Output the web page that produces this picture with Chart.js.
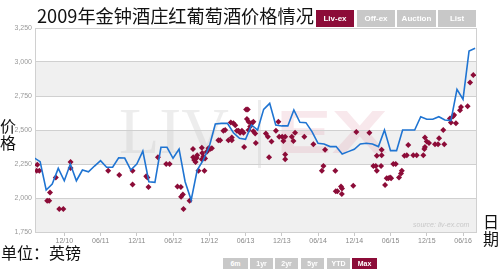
<!DOCTYPE html>
<html>
<head>
<meta charset="utf-8">
<script src="https://cdn.jsdelivr.net/npm/chart.js@4.4.0/dist/chart.umd.min.js"></script>
<style>
  body { margin: 0; width: 500px; height: 273px; overflow: hidden; background: #fff; position: relative; font-family: "Noto Sans CJK SC", sans-serif; }
  #chart { position: absolute; left: 0; top: 0; }
  .title { position: absolute; left: 37px; top: 4px; font-size: 18.2px; line-height: 23px; color: #111; white-space: nowrap; }
  .btn { position: absolute; text-align: center; color: #fff; font: bold 8px "Liberation Sans", Arial, sans-serif; background: #c8c8c8; }
  .top { top: 10px; height: 17px; line-height: 17px; }
  .bottom { top: 258px; height: 11px; line-height: 11px; font-size: 7px; }
  .on { background: #8c0c38; }
  .lbl { position: absolute; font-size: 16px; line-height: 17px; color: #111; }
  .source { position: absolute; left: 413px; top: 221px; font: italic 7px "Liberation Sans", Arial, sans-serif; color: #c8c8c8; }
</style>
</head>
<body>
<canvas id="chart" width="500" height="273"></canvas>
<div class="title">2009年金钟酒庄红葡萄酒价格情况</div>
<div class="btn top on" style="left:316px;width:38px">Liv-ex</div>
<div class="btn top" style="left:357px;width:38px">Off-ex</div>
<div class="btn top" style="left:397px;width:39px">Auction</div>
<div class="btn top" style="left:438px;width:38px">List</div>
<div class="lbl" style="left:0;top:117px;width:16px">价<br>格</div>
<div class="lbl" style="left:483px;top:213px;width:16px">日<br>期</div>
<div class="lbl" style="left:1px;top:244px">单位：英镑</div>
<div class="source">source: liv-ex.com</div>
<div class="btn bottom" style="left:223px;width:25px">6m</div>
<div class="btn bottom" style="left:250px;width:23px">1yr</div>
<div class="btn bottom" style="left:275px;width:23px">2yr</div>
<div class="btn bottom" style="left:301px;width:23px">5yr</div>
<div class="btn bottom" style="left:327px;width:23px">YTD</div>
<div class="btn bottom on" style="left:352px;width:25px">Max</div>
<script>
// monthly Liv-ex mid price
const lineMonths = [
  '2010-07', '2010-08', '2010-09', '2010-10', '2010-11', '2010-12',
  '2011-01', '2011-02', '2011-03', '2011-04', '2011-05', '2011-06', '2011-07', '2011-08', '2011-09', '2011-10', '2011-11', '2011-12',
  '2012-01', '2012-02', '2012-03', '2012-04', '2012-05', '2012-06', '2012-07', '2012-08', '2012-09', '2012-10', '2012-11', '2012-12',
  '2013-01', '2013-02', '2013-03', '2013-04', '2013-05', '2013-06', '2013-07', '2013-08', '2013-09', '2013-10', '2013-11', '2013-12',
  '2014-01', '2014-02', '2014-03', '2014-04', '2014-05', '2014-06', '2014-07', '2014-08', '2014-09', '2014-10', '2014-11', '2014-12',
  '2015-01', '2015-02', '2015-03', '2015-04', '2015-05', '2015-06', '2015-07', '2015-08', '2015-09', '2015-10', '2015-11', '2015-12',
  '2016-01', '2016-02', '2016-03', '2016-04', '2016-05', '2016-06', '2016-07', '2016-08'
];
const lineValues = [
  2296, 2267, 2059, 2103, 2218, 2127,
  2250, 2127, 2206, 2193, 2235, 2274, 2226, 2226, 2296, 2294, 2206, 2250,
  2345, 2120, 2115, 2373, 2373, 2292, 2360, 2120, 1985, 2206, 2279, 2378,
  2544, 2549, 2549, 2480, 2439, 2432, 2537, 2500, 2652, 2696, 2537, 2530,
  2530, 2647, 2557, 2554, 2488, 2402, 2397, 2378, 2378, 2324, 2341, 2358,
  2397, 2402, 2397, 2378, 2500, 2348, 2348, 2500, 2500, 2500, 2598, 2579,
  2579, 2598, 2574, 2569, 2799, 2726, 3081, 3101
];

// individual trades
const tradeDates = [
  '2010-07-17', '2010-07-14', '2010-07-27', '2010-09-06', '2010-09-16', '2010-09-20', '2010-10-19', '2010-11-06', '2010-11-26',
  '2011-01-02', '2011-01-02', '2011-07-09', '2011-09-04', '2011-11-10', '2011-11-10',
  '2012-01-18', '2012-01-24', '2012-01-29', '2012-03-16', '2012-04-27', '2012-05-14', '2012-06-23', '2012-07-10', '2012-07-20',
  '2012-07-11', '2012-07-23', '2012-08-23', '2012-09-10', '2012-09-11', '2012-09-16', '2012-09-23', '2012-09-28', '2012-10-01',
  '2012-10-07', '2012-10-24', '2012-10-26', '2012-11-02', '2012-11-10', '2012-10-24', '2012-11-07', '2012-11-19', '2012-11-27',
  '2012-12-05', '2012-12-14',
  '2013-01-16', '2013-01-25', '2013-02-11', '2013-02-20', '2013-03-06', '2013-03-23', '2013-03-23', '2013-03-18', '2013-04-01',
  '2013-04-10', '2013-04-18', '2013-04-26', '2013-05-04', '2013-05-13', '2013-05-21', '2013-05-24', '2013-06-04', '2013-06-12',
  '2013-06-08', '2013-06-16', '2013-07-02', '2013-07-10', '2013-06-16', '2013-06-24', '2013-07-10', '2013-07-19', '2013-07-22',
  '2013-09-12', '2013-09-22', '2013-09-28', '2013-10-10', '2013-11-02', '2013-11-14', '2013-11-18', '2013-12-03', '2013-12-18',
  '2013-12-09', '2013-12-18', '2013-12-18',
  '2014-01-21', '2014-01-29', '2014-02-07', '2014-03-23', '2014-05-08', '2014-06-20', '2014-06-28', '2014-07-06', '2014-08-27',
  '2014-08-29', '2014-09-07', '2014-09-25', '2014-09-30', '2014-09-29', '2014-11-26', '2014-12-11',
  '2015-02-16', '2015-03-06', '2015-03-18', '2015-03-23', '2015-04-14', '2015-04-17', '2015-03-23', '2015-04-17', '2015-05-04',
  '2015-05-12', '2015-05-20', '2015-05-29', '2015-06-04', '2015-06-15', '2015-06-27', '2015-07-13', '2015-07-27', '2015-07-23',
  '2015-08-10', '2015-08-22', '2015-08-29', '2015-09-24', '2015-10-11', '2015-11-14', '2015-11-22', '2015-12-01', '2015-11-22',
  '2015-11-19', '2015-12-12',
  '2016-01-12', '2016-01-27', '2016-02-02', '2016-02-23', '2016-02-28', '2016-03-26', '2016-04-01', '2016-04-11', '2016-04-17',
  '2016-04-26', '2016-05-16', '2016-05-21', '2016-06-24', '2016-07-06', '2016-07-22'
];
const tradePrices = [
  2245, 2200, 2200, 1980, 1980, 2040, 2150, 1920, 1920,
  2265, 2220, 2200, 2170, 2200, 2100,
  2160, 2150, 2080, 2300, 2250, 2250, 2085, 2080, 2025,
  2010, 1920, 1980, 2360, 2300, 2280, 2265, 2295, 2315,
  2200, 2370, 2330, 2305, 2290, 2285, 2200, 2340, 2365,
  2360, 2365,
  2425, 2425, 2495, 2500, 2425, 2445, 2425, 2555, 2550,
  2535, 2495, 2495, 2480, 2495, 2480, 2375, 2650, 2650,
  2580, 2560, 2550, 2560, 2500, 2525, 2490, 2475, 2405,
  2475, 2450, 2300, 2415, 2495, 2560, 2450, 2450, 2450,
  2420, 2320, 2285,
  2450, 2420, 2480, 2450, 2395, 2200, 2235, 2355, 2200,
  2050, 2050, 2085, 2070, 2030, 2090, 2485,
  2480, 2235, 2235, 2200, 2235, 2355, 2310, 2315, 2095,
  2145, 2145, 2150, 2145, 2250, 2250, 2150, 2200, 2180,
  2310, 2315, 2390, 2315, 2315, 2315, 2445, 2415, 2375,
  2360, 2405,
  2395, 2395, 2440, 2500, 2395, 2585, 2555, 2600, 2610,
  2550, 2645, 2670, 2675, 2850, 2905
];

const tickMonths = ['2010-12', '2011-06', '2011-12', '2012-06', '2012-12', '2013-06', '2013-12', '2014-06', '2014-12', '2015-06', '2015-12', '2016-06'];
const tickLabels = ['12/10', '06/11', '12/11', '06/12', '12/12', '06/13', '12/13', '06/14', '12/14', '06/15', '12/15', '06/16'];

// months since Jan 2010
function toMonth(s) {
  const p = s.split('-').map(Number);
  return (p[0] - 2010) * 12 + (p[1] - 1) + ((p[2] || 1) - 1) / 30;
}

const bandsPlugin = {
  id: 'bands',
  beforeDraw(chart) {
    const { ctx, chartArea: a, scales: { y } } = chart;
    ctx.save();
    ctx.fillStyle = '#f0f0f0';
    [[3000, 2750], [2500, 2250], [2000, 1750]].forEach(([hi, lo]) => {
      const t = y.getPixelForValue(hi), b = y.getPixelForValue(lo);
      ctx.fillRect(a.left, t, a.right - a.left, b - t);
    });
    // faint logo behind the data
    ctx.fillStyle = 'rgba(190,190,190,0.28)';
    ctx.font = '66px "Liberation Serif"';
    ctx.textBaseline = 'alphabetic';
    ctx.fillText('LIV', 119, 153);
    ctx.fillRect(258, 100, 3, 68);
    ctx.save();
    ctx.translate(276, 153);
    ctx.scale(1.35, 1);
    ctx.fillStyle = 'rgba(225,150,170,0.22)';
    ctx.font = 'bold 62px "Liberation Sans"';
    ctx.fillText('EX', 0, 0);
    ctx.restore();
    ctx.restore();
  },
  afterDraw(chart) {
    const { ctx, chartArea: a } = chart;
    ctx.save();
    ctx.strokeStyle = '#d0d0d0';
    ctx.lineWidth = 1;
    ctx.beginPath();
    ctx.moveTo(a.right + 0.5, a.top);
    ctx.lineTo(a.right + 0.5, a.bottom);
    ctx.stroke();
    ctx.restore();
  }
};

const tickFont = { family: '"Liberation Sans", Arial, sans-serif', size: 7 };

new Chart(document.getElementById('chart'), {
  type: 'scatter',
  data: {
    datasets: [
      {
        label: 'Trades',
        data: tradeDates.map((d, i) => ({ x: toMonth(d), y: tradePrices[i] })),
        backgroundColor: '#8c0c38',
        borderColor: '#8c0c38',
        pointStyle: 'rectRot',
        pointRadius: 3,
        borderWidth: 0,
        order: 1
      },
      {
        type: 'line',
        label: 'Liv-ex',
        data: lineMonths.map((m, i) => ({ x: toMonth(m), y: lineValues[i] })),
        borderColor: '#1f74d2',
        borderWidth: 1.6,
        pointRadius: 0,
        tension: 0,
        order: 0
      }
    ]
  },
  options: {
    responsive: false,
    animation: false,
    devicePixelRatio: 1,
    layout: { padding: { left: 0, top: 28, right: 24, bottom: 0 } },
    plugins: { legend: { display: false }, tooltip: { enabled: false } },
    scales: {
      x: {
        type: 'linear',
        min: 6.15,
        max: 79.15,
        afterBuildTicks: s => { s.ticks = tickMonths.map(m => ({ value: toMonth(m) })); },
        afterFit: s => { s.height = 41; },
        grid: { drawOnChartArea: false, color: '#c8c8c8', tickLength: 4 },
        border: { color: '#d0d0d0' },
        ticks: {
          autoSkip: false,
          maxRotation: 0,
          padding: 1,
          color: '#888',
          font: tickFont,
          callback: (v, i) => tickLabels[i]
        }
      },
      y: {
        min: 1750,
        max: 3250,
        afterFit: s => { s.width = 35; },
        grid: { color: '#d0d0d0', drawTicks: false },
        border: { color: '#d0d0d0' },
        ticks: {
          stepSize: 250,
          padding: 3,
          color: '#999',
          font: tickFont,
          callback: v => v.toLocaleString('en-US')
        }
      }
    }
  },
  plugins: [bandsPlugin]
});
</script>
</body>
</html>
